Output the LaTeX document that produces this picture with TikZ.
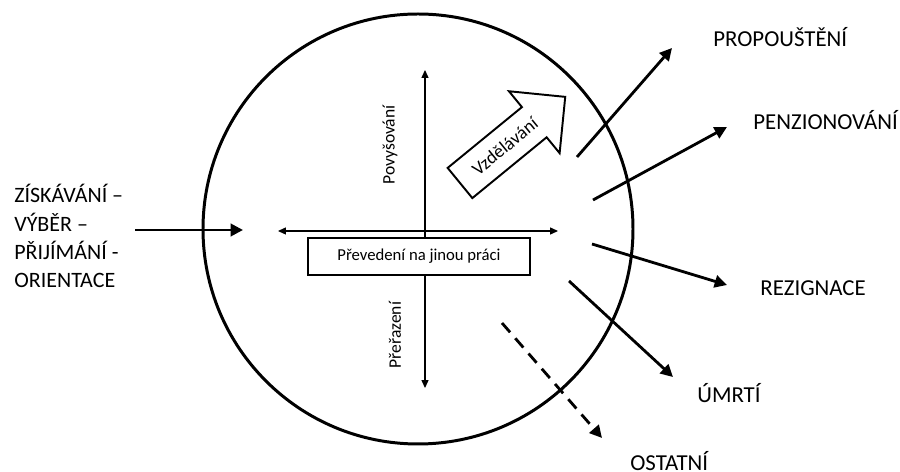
\documentclass[tikz,border=0pt]{standalone}
\usepackage{fontspec}
\setmainfont{Carlito}
\usepackage{tikz}
\usetikzlibrary{arrows.meta, positioning, calc}

\begin{document}
\begin{tikzpicture}[x=0.02cm, y=-0.02cm,
    every node/.style={font=\fontsize{10}{12}\selectfont},
    flow/.style={-{Triangle[length=7pt, width=7pt]}, line width=1.6pt},
    move/.style={{Triangle[length=4.5pt, width=4pt]}-{Triangle[length=4.5pt, width=4pt]}, line width=0.6pt},
    exit/.style={font=\fontsize{13}{15}\selectfont, anchor=base west, inner sep=0pt}]
    \useasboundingbox (0,0) rectangle (900,472);
    % organisation
    \node[circle, draw, line width=1.7pt, minimum size=430*0.02cm, inner sep=0pt] (org) at (418,229) {};
    % vertical and horizontal moves
    \coordinate (up) at (425,70);
    \coordinate (down) at (425,388);
    \coordinate (lt) at (278,231);
    \coordinate (rt) at (558,231);
    \draw[move] (up) -- (down);
    \node[draw, fill=white, line width=1.1pt, minimum width=222*0.02cm, minimum height=37*0.02cm,
        font=\fontsize{9.5}{11}\selectfont] (transfer) at (419,256.5) {Převedení na jinou práci};
    \draw[move] (lt) -- (rt);
    \node[rotate=90] (promo) at (390,145) {Povyšování};
    \node[rotate=90] (demo) at (395,335) {Přeřazení};
    % training block arrow
    \begin{scope}[shift={(460,183)}, rotate=39.3]
        \draw[line width=1.1pt, fill=white] (0,-19.5) -- (96,-19.5) -- (96,-40) -- (136,0) -- (96,40) -- (96,19.5) -- (0,19.5) -- cycle;
        \node[transform shape, inner sep=0pt, font=\fontsize{10.5}{12}\selectfont] (train) at (58,0) {Vzdělávání};
    \end{scope}
    % inflow
    \node[anchor=base west, inner sep=0pt, align=left, font=\fontsize{12.5}{16.2}\selectfont] (inflow) at (14,288) {ZÍSKÁVÁNÍ –\\VÝBĚR –\\PŘIJÍMÁNÍ -\\ORIENTACE};
    \coordinate (in0) at (135,230);
    \coordinate (in1) at (243,230);
    \draw[flow] (in0) -- (in1);
    % outflows
    \node[exit] (prop) at (713,47) {PROPOUŠTĚNÍ};
    \node[exit] (pens) at (753,130) {PENZIONOVÁNÍ};
    \node[exit] (rezi) at (760,296) {REZIGNACE};
    \node[exit] (umrt) at (697,403) {ÚMRTÍ};
    \node[exit] (osta) at (630,471) {OSTATNÍ};
    \coordinate (p0) at (577,157);  \coordinate (p1) at (672,48);
    \coordinate (q0) at (593,200);  \coordinate (q1) at (727,127);
    \coordinate (r0) at (592,244);  \coordinate (r1) at (727,285);
    \coordinate (u0) at (569,281);  \coordinate (u1) at (673,377);
    \coordinate (o0) at (502,323);  \coordinate (o1) at (602,438);
    \draw[flow] (p0) -- (p1);
    \draw[flow] (q0) -- (q1);
    \draw[flow] (r0) -- (r1);
    \draw[flow] (u0) -- (u1);
    \draw[flow, dash pattern=on 7pt off 4.5pt] (o0) -- (o1);
\end{tikzpicture}
\end{document}
